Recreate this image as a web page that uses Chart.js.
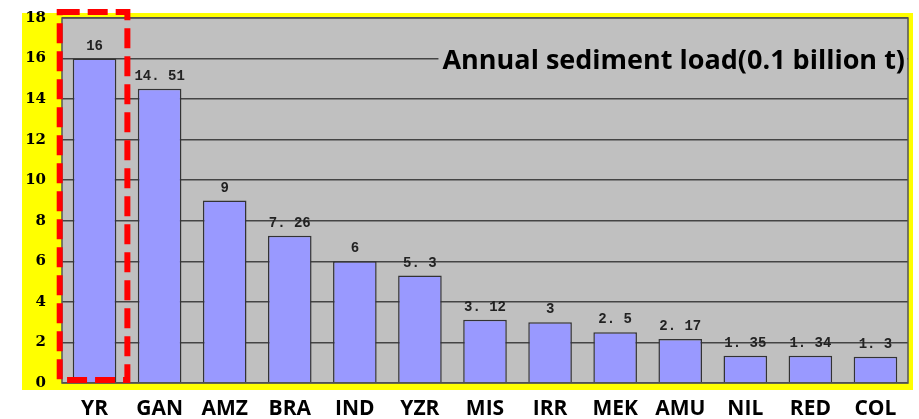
<!DOCTYPE html>
<html>
<head>
<meta charset="utf-8">
<script src="https://cdn.jsdelivr.net/npm/chart.js@4"></script>
<style>
  html, body { margin: 0; padding: 0; background: #fff; }
  #wrap { width: 919px; height: 419px; }
</style>
</head>
<body>
<div id="wrap"><canvas id="chart"></canvas></div>
<script>
const rivers = ['YR', 'GAN', 'AMZ', 'BRA', 'IND', 'YZR', 'MIS', 'IRR', 'MEK', 'AMU', 'NIL', 'RED', 'COL'];
const sediment = [16, 14.51, 9, 7.26, 6, 5.3, 3.12, 3, 2.5, 2.17, 1.35, 1.34, 1.3];
const yTicks = [0, 2, 4, 6, 8, 10, 12, 14, 16, 18];
const titleText = 'Annual sediment load(0.1 billion t)';

// yellow frame + gray plot background
const backdrop = {
  id: 'backdrop',
  beforeDraw(chart) {
    const { ctx, chartArea: a } = chart;
    ctx.save();
    ctx.fillStyle = '#ffff00';
    ctx.fillRect(22, a.top - 5, a.right + 5 - 22, a.bottom + 7 - (a.top - 5));
    ctx.fillStyle = '#c0c0c0';
    ctx.fillRect(a.left, a.top, a.right - a.left, a.bottom - a.top);
    ctx.restore();
  },
  afterDraw(chart) {
    const { ctx, chartArea: a } = chart;
    ctx.save();
    ctx.strokeStyle = '#555';
    ctx.lineWidth = 1.5;
    ctx.strokeRect(a.left, a.top, a.right - a.left, a.bottom - a.top);
    ctx.restore();
  }
};

// value labels above the bars
const valueLabels = {
  id: 'valueLabels',
  afterDatasetsDraw(chart) {
    const { ctx } = chart;
    const meta = chart.getDatasetMeta(0);
    ctx.save();
    ctx.font = 'bold 14px "Liberation Mono", "DejaVu Sans Mono", monospace';
    ctx.fillStyle = '#222';
    ctx.textAlign = 'center';
    ctx.textBaseline = 'alphabetic';
    meta.data.forEach((bar, i) => {
      const txt = String(sediment[i]).replace('.', '. ');
      ctx.fillText(txt, bar.x, bar.y - 9);
    });
    ctx.restore();
  }
};

// title box and red dashed highlight around first bar
const overlay = {
  id: 'overlay',
  afterDraw(chart) {
    const { ctx, chartArea: a, scales } = chart;
    ctx.save();
    ctx.font = 'bold 27px "Open Sans", "Noto Sans", sans-serif';
    const w = ctx.measureText(titleText).width;
    const tx = a.right - 3;
    const ty = 61;
    ctx.fillStyle = '#c0c0c0';
    ctx.fillRect(tx - w - 4, ty - 17, w + 6, 34);
    ctx.fillStyle = '#000';
    ctx.textAlign = 'right';
    ctx.textBaseline = 'middle';
    ctx.fillText(titleText, tx, ty);

    const x = scales.x;
    const cx = x.getPixelForValue(0);
    const half = (x.getPixelForValue(1) - cx) * 0.52;
    ctx.strokeStyle = '#ff0000';
    ctx.lineWidth = 6;
    ctx.setLineDash([20, 8]);
    ctx.strokeRect(cx - half - 1, a.top - 6, half * 2, a.bottom - a.top + 3);
    ctx.restore();
  }
};

new Chart(document.getElementById('chart'), {
  type: 'bar',
  data: {
    labels: rivers,
    datasets: [{
      data: sediment,
      backgroundColor: '#9999ff',
      borderColor: '#333',
      borderWidth: 1.5,
      categoryPercentage: 1,
      barPercentage: 0.67
    }]
  },
  options: {
    responsive: true,
    maintainAspectRatio: false,
    animation: false,
    layout: { padding: { left: 0, right: 11, top: 18, bottom: 0 } },
    scales: {
      x: {
        afterFit(scale) { scale.height = 36; scale.paddingLeft = 0; scale.paddingRight = 0; },
        grid: { display: false },
        border: { display: false },
        ticks: {
          padding: 5,
          color: '#000',
          font: { family: '"Open Sans", "Noto Sans", sans-serif', size: 21, weight: 'bold' }
        }
      },
      y: {
        min: 0,
        max: 18,
        afterFit(scale) { scale.width = 62; scale.paddingTop = 0; scale.paddingBottom = 0; },
        afterBuildTicks(scale) { scale.ticks = yTicks.map(v => ({ value: v })); },
        grid: { color: '#444', lineWidth: 1.5, drawTicks: false },
        border: { display: false },
        ticks: {
          padding: 16,
          color: '#000',
          font: { family: '"DejaVu Serif", serif', size: 15, weight: 'bold' }
        }
      }
    },
    plugins: {
      legend: { display: false },
      tooltip: { enabled: false }
    }
  },
  plugins: [backdrop, valueLabels, overlay]
});
</script>
</body>
</html>
